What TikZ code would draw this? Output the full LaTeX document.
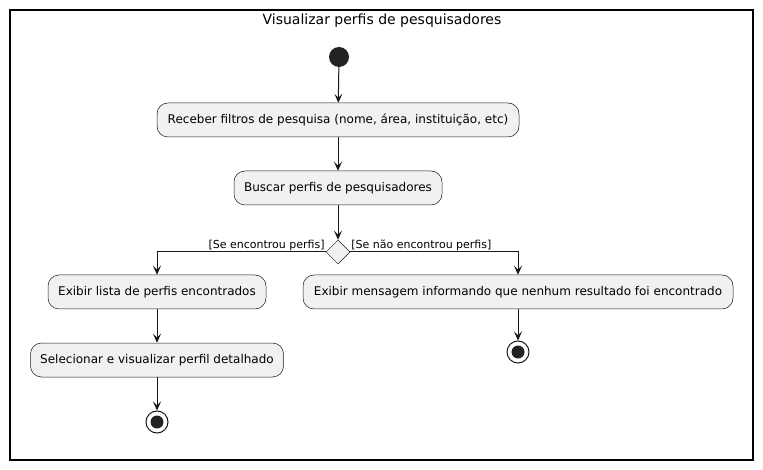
\documentclass[tikz,border=0pt]{standalone}
\usepackage{fontspec}
\setmainfont{DejaVu Sans}
\usepackage{xcolor}
\usetikzlibrary{shapes.geometric,arrows.meta,positioning}
\definecolor{umlline}{HTML}{181818}
\definecolor{umlfill}{HTML}{F1F1F1}
\definecolor{umldot}{HTML}{222222}

\tikzset{
  acao/.style={rectangle,rounded corners=11pt,draw=umlline,line width=0.5pt,fill=umlfill,
    minimum height=34pt,inner xsep=8pt,font=\fontsize{12}{14}\selectfont},
  seta/.style={-{Stealth[length=9pt,width=8pt,inset=4pt]},draw=umlline,line width=1pt},
  inicio/.style={circle,fill=umldot,minimum size=20pt,inner sep=0pt},
  fim/.style={circle,draw=umlline,line width=1pt,minimum size=22pt,inner sep=0pt,
    path picture={\fill[umldot] (path picture bounding box.center) circle (6.5pt);}},
  decisao/.style={diamond,draw=umlline,line width=0.5pt,fill=umlfill,minimum size=24pt,inner sep=0pt},
  rotulo/.style={font=\fontsize{11}{13}\selectfont,inner sep=1pt}
}

\begin{document}
\begin{tikzpicture}[x=1pt,y=-1pt]
    \useasboundingbox (0,0) rectangle (763,470);
    \draw[line width=1.3pt] (10,10) rectangle (753,460);
    \node[font=\fontsize{14}{16}\selectfont] (titulo) at (382,21) {Visualizar perfis de pesquisadores};

    % fluxo principal
    \node[inicio] (ini) at (339,57) {};
    \node[acao,minimum width=362pt] (filtros) at (338,120) {Receber filtros de pesquisa (nome, área, instituição, etc)};
    \node[acao,minimum width=208pt] (buscar) at (338,188) {Buscar perfis de pesquisadores};
    \node[decisao] (dec) at (338,252) {};

    % ramo esquerdo
    \node[acao,minimum width=218pt] (lista) at (157,292) {Exibir lista de perfis encontrados};
    \node[acao,minimum width=253pt] (detalhe) at (157,360) {Selecionar e visualizar perfil detalhado};
    \node[fim] (fimA) at (157,422) {};

    % ramo direito
    \node[acao,minimum width=430pt] (msg) at (518,292) {Exibir mensagem informando que nenhum resultado foi encontrado};
    \node[fim] (fimB) at (518,352) {};

    \draw[seta] (ini) -- (filtros);
    \draw[seta] (filtros) -- (buscar);
    \draw[seta] (buscar) -- (dec);
    \draw[seta] (dec.west) -| (lista.north);
    \draw[seta] (dec.east) -| (msg.north);
    \draw[seta] (lista) -- (detalhe);
    \draw[seta] (detalhe) -- (fimA);
    \draw[seta] (msg) -- (fimB);

    \node[rotulo,anchor=south east] (simA) at (dec.west) {[Se encontrou perfis]};
    \node[rotulo,anchor=south west] (naoB) at (dec.east) {[Se não encontrou perfis]};
\end{tikzpicture}
\end{document}
